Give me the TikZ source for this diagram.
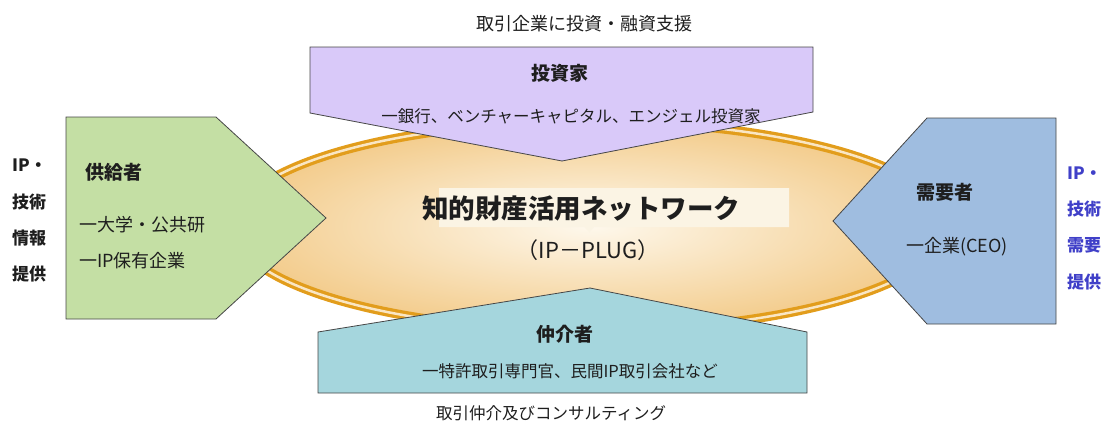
\documentclass[tikz,border=0pt]{standalone}
\usepackage{fontspec}
\setmainfont{Noto Sans CJK JP}
\usetikzlibrary{positioning}
\definecolor{ink}{RGB}{30,30,30}
\definecolor{rim}{RGB}{70,70,70}
\definecolor{supply}{RGB}{196,223,164}
\definecolor{invest}{RGB}{217,201,249}
\definecolor{demand}{RGB}{159,189,224}
\definecolor{broker}{RGB}{165,214,221}
\definecolor{ring}{RGB}{226,157,28}
\definecolor{ringgap}{RGB}{250,230,195}
\definecolor{hub}{RGB}{254,248,236}
\definecolor{hubedge}{RGB}{243,204,140}
\definecolor{callout}{RGB}{251,244,228}
\definecolor{need}{RGB}{64,64,200}
\tikzset{
  every picture/.style={color=ink},
  party/.style={draw=rim, line width=0.8pt, line join=miter},
  head/.style={font=\fontsize{19}{23}\selectfont\bfseries, inner sep=0pt},
  item/.style={font=\fontsize{18}{22}\selectfont, inner sep=0pt},
  small/.style={font=\fontsize{16.5}{20}\selectfont, inner sep=0pt},
  side/.style={font=\fontsize{17}{21}\selectfont\bfseries, inner sep=0pt, anchor=west},
}

\begin{document}
\begin{tikzpicture}[x=1pt,y=-1pt]
  \useasboundingbox (0,0) rectangle (1106,423);
  % network in the middle
  \shade[inner color=hub, outer color=hubedge] (590,226) ellipse [x radius=357, y radius=104.5];
  \draw[ring, double=ringgap, double distance=2.5pt, line width=3.3pt] (590,226) ellipse [x radius=357, y radius=104.5];
  \fill[callout] (439,188) -- (789,188) -- (789,227) -- (594,227) -- (589,232) -- (584,227) -- (439,227) -- cycle;
  \node[font=\fontsize{26.5}{30}\selectfont\bfseries, inner sep=0pt] (net) at (581,209) {知的財産活用ネットワーク};
  \node[font=\fontsize{22}{26}\selectfont, inner sep=0pt] (plug) at (588,250) {（IP－PLUG）};

  % the four parties
  \draw[party, fill=supply] (66,117) -- (216,117) -- (326,218) -- (216,319) -- (66,319) -- cycle;
  \draw[party, fill=invest] (310,47) -- (813,47) -- (813,112) -- (562,161) -- (310,113) -- cycle;
  \draw[party, fill=demand] (1056,118) -- (1056,324) -- (927,324) -- (833,221) -- (927,118) -- cycle;
  \draw[party, fill=broker] (318,393) -- (318,332) -- (590,288) -- (807,332) -- (807,393) -- cycle;

  \node[head, anchor=west] (supplier) at (85,172) {供給者};
  \node[item, anchor=west] (univ) at (79,225) {一大学・公共研};
  \node[item, anchor=west] (holder) at (79,261) {一IP保有企業};

  \node[head] (investor) at (560,73) {投資家};
  \node[small] (banks) at (571,116) {一銀行、ベンチャーキャピタル、エンジェル投資家};

  \node[head] (demander) at (945,192) {需要者};
  \node[item, anchor=west] (firm) at (906,247) {一企業(CEO)};

  \node[head] (agent) at (565,334) {仲介者};
  \node[small] (offices) at (570,371) {一特許取引専門官、民間IP取引会社など};

  \node[item] (fund) at (584,24) {取引企業に投資・融資支援};
  \node[small] (consult) at (551,413) {取引仲介及びコンサルティング};

  % side notes
  \node[side] (l1) at (12,165) {IP・};
  \node[side] (l2) at (12,202) {技術};
  \node[side] (l3) at (12,238) {情報};
  \node[side] (l4) at (12,274) {提供};
  \node[side, text=need] (r1) at (1067,173) {IP・};
  \node[side, text=need] (r2) at (1067,209) {技術};
  \node[side, text=need] (r3) at (1067,245) {需要};
  \node[side, text=need] (r4) at (1067,282) {提供};
\end{tikzpicture}
\end{document}
